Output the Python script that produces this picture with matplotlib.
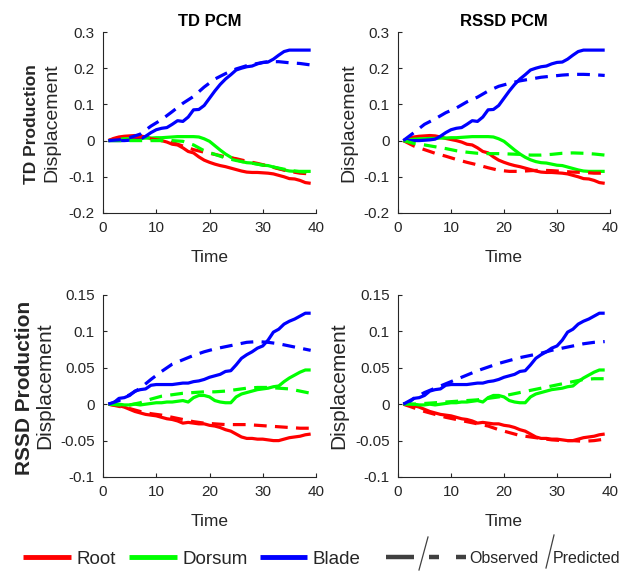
import matplotlib
matplotlib.use("Agg")
import matplotlib.pyplot as plt
from matplotlib import font_manager
from matplotlib.lines import Line2D
import numpy as np

# ---------------- data ----------------
t_obs = np.arange(1, 40)
t_pred = np.arange(1, 40, 2)

x_ticks = [0, 10, 20, 30, 40]
y_ticks_top = [-0.2, -0.1, 0, 0.1, 0.2, 0.3]
y_ticklabels_top = ["-0.2", "-0.1", "0", "0.1", "0.2", "0.3"]
y_ticks_bot = [-0.1, -0.05, 0, 0.05, 0.1, 0.15]
y_ticklabels_bot = ["-0.1", "-0.05", "0", "0.05", "0.1", "0.15"]

col_titles = ["TD PCM", "RSSD PCM"]
row_titles = ["TD Production", "RSSD Production"]
series_names = ["Root", "Dorsum", "Blade"]

# Observed, TD production (t = 1..39)
td_root_obs = [0, 0.006, 0.010, 0.012, 0.013, 0.014, 0.013, 0.010, 0.006, 0.003,
               0, -0.004, -0.010, -0.012, -0.020, -0.030, -0.034, -0.045, -0.054, -0.060,
               -0.065, -0.069, -0.072, -0.076, -0.080, -0.084, -0.087, -0.088, -0.088, -0.089,
               -0.090, -0.092, -0.096, -0.100, -0.105, -0.106, -0.110, -0.116, -0.118]
td_dorsum_obs = [0, 0.002, 0.004, 0.005, 0.005, 0.006, 0.006, 0.007, 0.007, 0.008,
                 0.008, 0.009, 0.010, 0.011, 0.011, 0.011, 0.011, 0.010, 0.005, -0.002,
                 -0.014, -0.026, -0.037, -0.046, -0.053, -0.058, -0.061, -0.062, -0.065, -0.068,
                 -0.069, -0.073, -0.077, -0.081, -0.084, -0.085, -0.085, -0.085, -0.085]
td_blade_obs = [0, 0, 0, 0, 0.001, 0.002, 0.004, 0.012, 0.022, 0.030,
                0.034, 0.036, 0.045, 0.055, 0.053, 0.065, 0.085, 0.086, 0.097, 0.117,
                0.137, 0.155, 0.170, 0.182, 0.195, 0.200, 0.204, 0.206, 0.212, 0.216,
                0.217, 0.225, 0.236, 0.246, 0.250, 0.250, 0.250, 0.250, 0.250]

# Observed, RSSD production (t = 1..39)
rssd_root_obs = [0, -0.001, -0.002, -0.004, -0.007, -0.010, -0.012, -0.014, -0.015, -0.016,
                 -0.018, -0.020, -0.021, -0.023, -0.026, -0.025, -0.026, -0.027, -0.027, -0.029,
                 -0.030, -0.032, -0.035, -0.037, -0.041, -0.045, -0.047, -0.047, -0.048, -0.048,
                 -0.049, -0.050, -0.050, -0.048, -0.046, -0.045, -0.044, -0.042, -0.041]
rssd_dorsum_obs = [0, 0, 0, -0.001, -0.001, 0, -0.001, 0, 0.001, 0.002,
                   0.002, 0.003, 0.003, 0.004, 0.005, 0.003, 0.009, 0.012, 0.012, 0.010,
                   0.005, 0.003, 0.002, 0.002, 0.010, 0.014, 0.016, 0.018, 0.020, 0.021,
                   0.022, 0.024, 0.025, 0.031, 0.036, 0.040, 0.044, 0.047, 0.047]
rssd_blade_obs = [0, 0.002, 0.008, 0.009, 0.012, 0.018, 0.020, 0.021, 0.026, 0.027,
                  0.027, 0.027, 0.027, 0.028, 0.029, 0.029, 0.031, 0.032, 0.034, 0.037,
                  0.039, 0.041, 0.045, 0.046, 0.054, 0.063, 0.068, 0.072, 0.077, 0.080,
                  0.088, 0.099, 0.103, 0.110, 0.114, 0.117, 0.121, 0.125, 0.125]

# Predicted (t = 1, 3, ..., 39)
# TD production, TD PCM
td_tdpcm_root = [0, 0.008, 0.010, 0.010, 0.005, 0, -0.005, -0.015, -0.025, -0.032,
                 -0.038, -0.045, -0.050, -0.057, -0.063, -0.070, -0.078, -0.085, -0.090, -0.092]
td_tdpcm_dorsum = [0, 0, 0, 0, 0, 0, 0, -0.002, -0.012, -0.028,
                   -0.038, -0.048, -0.055, -0.060, -0.065, -0.070, -0.076, -0.082, -0.086, -0.088]
td_tdpcm_blade = [0, 0.002, 0.008, 0.018, 0.040, 0.058, 0.080, 0.103, 0.122, 0.148,
                  0.170, 0.185, 0.198, 0.207, 0.213, 0.218, 0.218, 0.215, 0.213, 0.209]
# TD production, RSSD PCM
td_rssdpcm_root = [0, -0.015, -0.025, -0.035, -0.043, -0.052, -0.060, -0.067, -0.075, -0.082,
                   -0.085, -0.085, -0.083, -0.082, -0.083, -0.085, -0.087, -0.088, -0.090, -0.090]
td_rssdpcm_dorsum = [0, -0.008, -0.012, -0.017, -0.022, -0.028, -0.032, -0.035, -0.036, -0.036,
                     -0.037, -0.038, -0.040, -0.040, -0.038, -0.035, -0.034, -0.035, -0.037, -0.040]
td_rssdpcm_blade = [0, 0.022, 0.045, 0.060, 0.077, 0.090, 0.107, 0.120, 0.137, 0.150,
                    0.158, 0.165, 0.170, 0.175, 0.178, 0.181, 0.183, 0.183, 0.182, 0.180]
# RSSD production, TD PCM
rssd_tdpcm_root = [0, -0.003, -0.006, -0.010, -0.013, -0.015, -0.018, -0.021, -0.024, -0.026,
                   -0.027, -0.028, -0.028, -0.028, -0.029, -0.030, -0.031, -0.032, -0.033, -0.033]
rssd_tdpcm_dorsum = [0, -0.001, -0.001, 0.002, 0.007, 0.011, 0.013, 0.015, 0.016, 0.017,
                     0.017, 0.018, 0.020, 0.022, 0.023, 0.023, 0.022, 0.021, 0.018, 0.015]
rssd_tdpcm_blade = [0, 0.005, 0.013, 0.022, 0.034, 0.045, 0.055, 0.061, 0.067, 0.072,
                    0.076, 0.079, 0.082, 0.085, 0.086, 0.085, 0.083, 0.080, 0.077, 0.074]
# RSSD production, RSSD PCM
rssd_rssdpcm_root = [0, -0.005, -0.010, -0.014, -0.018, -0.021, -0.024, -0.027, -0.030, -0.035,
                     -0.039, -0.043, -0.045, -0.047, -0.049, -0.050, -0.050, -0.051, -0.050, -0.048]
rssd_rssdpcm_dorsum = [0, 0, 0.001, 0.002, 0.003, 0.004, 0.005, 0.006, 0.008, 0.010,
                       0.013, 0.016, 0.019, 0.022, 0.025, 0.028, 0.031, 0.034, 0.035, 0.035]
rssd_rssdpcm_blade = [0, 0.008, 0.016, 0.022, 0.028, 0.034, 0.040, 0.046, 0.051, 0.056,
                      0.060, 0.064, 0.067, 0.070, 0.074, 0.077, 0.080, 0.083, 0.085, 0.086]

observed = [
    [td_root_obs, td_dorsum_obs, td_blade_obs],
    [rssd_root_obs, rssd_dorsum_obs, rssd_blade_obs],
]
predicted = [
    [[td_tdpcm_root, td_tdpcm_dorsum, td_tdpcm_blade],
     [td_rssdpcm_root, td_rssdpcm_dorsum, td_rssdpcm_blade]],
    [[rssd_tdpcm_root, rssd_tdpcm_dorsum, rssd_tdpcm_blade],
     [rssd_rssdpcm_root, rssd_rssdpcm_dorsum, rssd_rssdpcm_blade]],
]

# ---------------- style ----------------
names = {f.name for f in font_manager.fontManager.ttflist}
FONT = "Liberation Sans" if "Liberation Sans" in names else "DejaVu Sans"
NARROW = "Liberation Sans Narrow" if "Liberation Sans Narrow" in names else None
plt.rcParams["font.family"] = [FONT, "DejaVu Sans"]
plt.rcParams["axes.unicode_minus"] = False

colors = ["#FF0000", "#00FF00", "#0000FF"]
TXT = "#262626"
LW = 2.3

W, H = 636, 571
fig = plt.figure(figsize=(W / 100, H / 100), dpi=100)

lefts = [103, 398]
rights = [316, 610]
tops = [32, 295]
bottoms = [213, 477]
ylab_x = [[-0.239, -0.231], [-0.272, -0.278]]
row_label_x = [32, 25]
row_label_size = [12.5, 15]
ylab_size = [14, 15]

for r in range(2):
    for c in range(2):
        l, rt, tp, bt = lefts[c], rights[c], tops[r], bottoms[r]
        ax = fig.add_axes([l / W, 1 - bt / H, (rt - l) / W, (bt - tp) / H])
        for k in range(3):
            ax.plot(t_obs, observed[r][k], color=colors[k], lw=LW, solid_capstyle="butt")
        for k in range(3):
            ax.plot(t_pred, predicted[r][c][k], color=colors[k], lw=LW,
                    linestyle=(0, (4, 2.6)), dash_capstyle="butt")
        ax.set_xlim(0, 40)
        ax.set_xticks(x_ticks)
        if r == 0:
            ax.set_ylim(-0.2, 0.3)
            ax.set_yticks(y_ticks_top)
            ax.set_yticklabels(y_ticklabels_top)
        else:
            ax.set_ylim(-0.1, 0.15)
            ax.set_yticks(y_ticks_bot)
            ax.set_yticklabels(y_ticklabels_bot)
        for s in ["top", "right"]:
            ax.spines[s].set_visible(False)
        for s in ["left", "bottom"]:
            ax.spines[s].set_color(TXT)
            ax.spines[s].set_linewidth(0.8)
        ax.tick_params(direction="in", length=3, width=0.8, colors=TXT,
                       labelsize=11, labelcolor=TXT)
        ax.tick_params(axis="x", pad=6)
        ax.tick_params(axis="y", pad=6)
        ax.set_xlabel("Time", fontsize=12.5, color=TXT, va="center")
        ax.xaxis.set_label_coords(0.5, -44 / (bt - tp))
        ax.set_ylabel("Displacement", fontsize=ylab_size[r], color=TXT, va="center")
        ax.yaxis.set_label_coords(ylab_x[r][c], 0.5)
        if r == 0:
            ax.text(0.5, 1 + 11 / (bt - tp), col_titles[c], transform=ax.transAxes,
                    ha="center", va="center", fontsize=12, fontweight="bold", color="black")
        if c == 0:
            fig.text(row_label_x[r] / W, 1 - ((tp + bt) / 2 + 2) / H, row_titles[r],
                     rotation=90, ha="center", va="center", fontsize=row_label_size[r],
                     fontweight="bold", color=TXT)

# ---------------- legend ----------------
def fx(x):
    return x / W

def fy(y):
    return 1 - y / H

LY = 557
leg = [(23, 71, 76), (129, 177, 183), (260, 307, 312)]
for k, (x0, x1, xt) in enumerate(leg):
    fig.add_artist(Line2D([fx(x0), fx(x1)], [fy(LY), fy(LY)], color=colors[k], lw=3.5,
                          transform=fig.transFigure, solid_capstyle="butt"))
    fig.text(fx(xt), fy(564), series_names[k], ha="left", va="baseline",
             fontsize=13.5, color=TXT)

GRAY = "#404040"
fig.add_artist(Line2D([fx(386), fx(414)], [fy(LY), fy(LY)], color=GRAY, lw=3.2,
                      transform=fig.transFigure, solid_capstyle="butt"))
fig.add_artist(Line2D([fx(419), fx(428)], [fy(570), fy(537)], color=GRAY, lw=0.9,
                      transform=fig.transFigure))
for (x0, x1) in [(429, 439), (456, 466)]:
    fig.add_artist(Line2D([fx(x0), fx(x1)], [fy(LY), fy(LY)], color=GRAY, lw=3.2,
                          transform=fig.transFigure, solid_capstyle="butt"))
fig.add_artist(Line2D([fx(546), fx(554)], [fy(568), fy(535)], color=GRAY, lw=0.9,
                      transform=fig.transFigure))
if NARROW:
    lkw = dict(family=[NARROW, FONT], fontsize=13.5)
else:
    lkw = dict(fontsize=11.5)
fig.text(fx(469), fy(563), "Observed", ha="left", va="baseline", color=TXT, **lkw)
fig.text(fx(553), fy(563), "Predicted", ha="left", va="baseline", color=TXT, **lkw)

fig.savefig("out.png", dpi=100)
